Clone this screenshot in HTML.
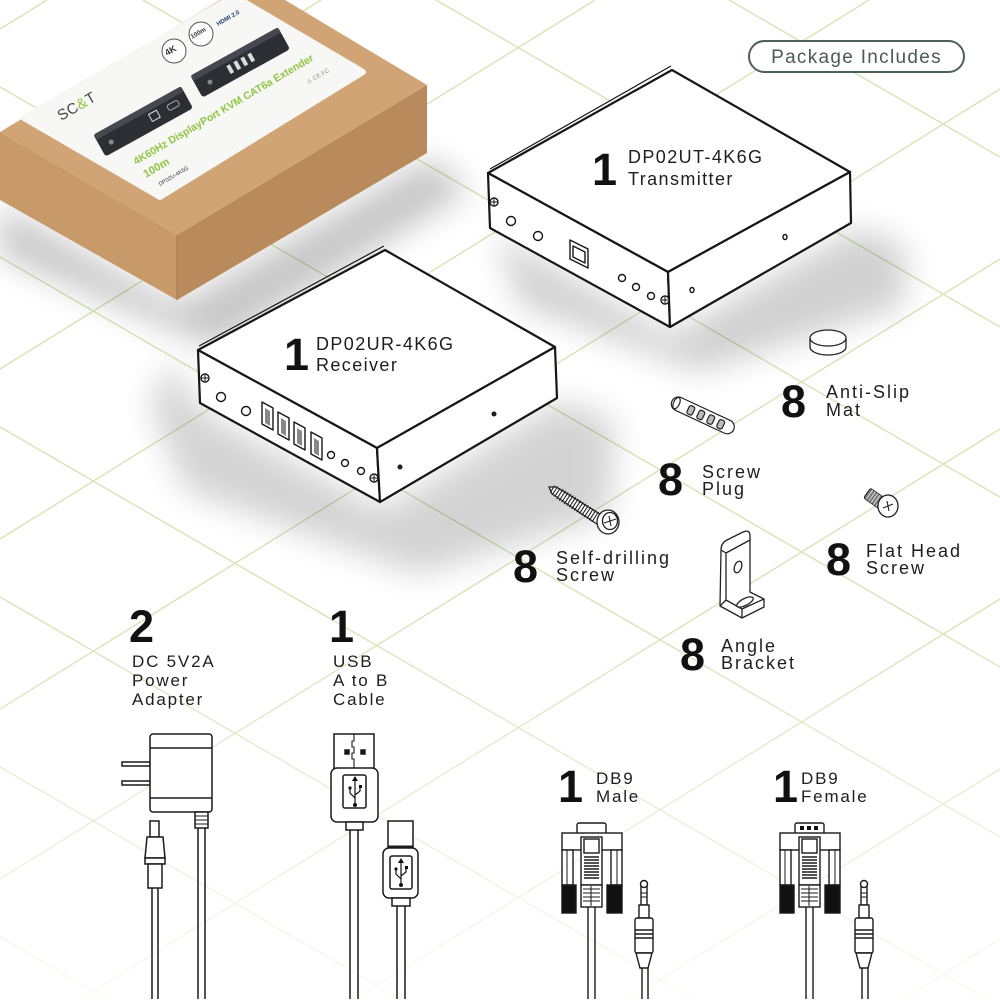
<!DOCTYPE html>
<html><head><meta charset="utf-8"><style>
html,body{margin:0;padding:0;background:#fff;width:1000px;height:1000px;overflow:hidden;}
svg{display:block;}
text{font-family:"Liberation Sans",Arial,sans-serif;}
</style></head><body>
<svg width="1000" height="1000" viewBox="0 0 1000 1000" xmlns="http://www.w3.org/2000/svg">
<defs>
<filter id="b1" x="-30%" y="-30%" width="160%" height="160%"><feGaussianBlur stdDeviation="16"/></filter>
<linearGradient id="fade" x1="0" y1="0" x2="0" y2="1">
<stop offset="0" stop-color="#fff"/><stop offset="0.62" stop-color="#fff"/><stop offset="1" stop-color="#fff" stop-opacity="0.15"/>
</linearGradient>
<mask id="m"><rect width="1000" height="1000" fill="url(#fade)"/></mask>
</defs>
<rect width="1000" height="1000" fill="#fff"/>

<!-- grid -->
<g mask="url(#m)" stroke="#d7e4b6" stroke-width="1.4" fill="none">
<line x1="729" y1="0" x2="1000" y2="157"/>
<line x1="436" y1="0" x2="1000" y2="327"/>
<line x1="143" y1="0" x2="1000" y2="497"/>
<line x1="0" y1="87" x2="1000" y2="667"/>
<line x1="0" y1="257" x2="1000" y2="837"/>
<line x1="0" y1="427" x2="988" y2="1000"/>
<line x1="0" y1="597" x2="695" y2="1000"/>
<line x1="0" y1="767" x2="402" y2="1000"/>
<line x1="0" y1="937" x2="109" y2="1000"/>
<line x1="0" y1="29" x2="47" y2="0"/>
<line x1="0" y1="199" x2="321" y2="0"/>
<line x1="0" y1="369" x2="595" y2="0"/>
<line x1="0" y1="539" x2="869" y2="0"/>
<line x1="0" y1="709" x2="1000" y2="89"/>
<line x1="0" y1="879" x2="1000" y2="259"/>
<line x1="79" y1="1000" x2="1000" y2="429"/>
<line x1="353" y1="1000" x2="1000" y2="599"/>
<line x1="627" y1="1000" x2="1000" y2="769"/>
<line x1="902" y1="1000" x2="1000" y2="939"/>
</g>

<!-- shadows -->
<polygon points="0,205 177,305 430,158 470,190 215,348 0,255" fill="#000" opacity=".22" filter="url(#b1)"/>
<polygon points="495,232 670,335 855,228 905,245 905,305 700,372 520,305" fill="#000" opacity=".18" filter="url(#b1)"/>
<polygon points="170,360 200,410 382,510 560,400 615,420 610,515 420,575 185,490 150,405" fill="#000" opacity=".17" filter="url(#b1)"/>

<!-- cardboard box -->
<polygon points="0,132 220,0 285,0 427,85 177,235" fill="#d0a474"/>
<polygon points="0,132 177,235 177,300 0,200" fill="#c89a6a"/>
<polygon points="177,235 427,85 427,153 177,300" fill="#b98a5c"/>
<line x1="177" y1="235" x2="177" y2="300" stroke="#a87c50" stroke-width="1"/>
<polygon points="24,118 160,197 363,72 246,3 222,3" fill="#f7f7f5" stroke="#f7f7f5" stroke-width="6" stroke-linejoin="round"/>
<text transform="translate(61,121) rotate(-30)" font-size="15" fill="#444" letter-spacing="0.5">SC<tspan fill="#8dc63f">&amp;</tspan>T</text>
<g transform="translate(143,121) rotate(-29)">
<rect x="-50" y="-12" width="100" height="25" rx="3" fill="#2c2e33"/>
<rect x="-50" y="-12" width="100" height="6" rx="2" fill="#45484e"/>
<rect x="8" y="-3" width="9" height="8" fill="none" stroke="#ddd" stroke-width="1"/>
<rect x="28" y="-2" width="12" height="6" rx="2" fill="none" stroke="#aaa" stroke-width="1"/>
<circle cx="-38" cy="3" r="2.5" fill="#888"/>
</g>
<g transform="translate(240,62) rotate(-29)">
<rect x="-50" y="-12" width="100" height="25" rx="3" fill="#2c2e33"/>
<rect x="-50" y="-12" width="100" height="6" rx="2" fill="#45484e"/>
<rect x="-14" y="-3" width="4" height="9" fill="#ddd"/>
<rect x="-6" y="-3" width="4" height="9" fill="#ddd"/>
<rect x="2" y="-3" width="4" height="9" fill="#ddd"/>
<rect x="10" y="-3" width="4" height="9" fill="#ddd"/>
<circle cx="-36" cy="3" r="2.5" fill="#888"/>
</g>
<text transform="translate(136,165) rotate(-30.5)" font-size="10.5" font-weight="bold" fill="#8dc63f" textLength="207" lengthAdjust="spacingAndGlyphs">4K60Hz DisplayPort KVM CAT6a Extender</text>
<text transform="translate(146,178) rotate(-30.5)" font-size="11" font-weight="bold" fill="#8dc63f">100m</text>
<text transform="translate(160,186) rotate(-30.5)" font-size="5.5" fill="#333">DP02U-4K6G</text>
<circle cx="174" cy="51" r="12" fill="#fff" stroke="#555" stroke-width="1"/>
<text transform="translate(167,56) rotate(-30)" font-size="9" font-weight="bold" fill="#333">4K</text>
<circle cx="201" cy="34" r="12" fill="#fff" stroke="#555" stroke-width="1"/>
<text transform="translate(192,39) rotate(-30)" font-size="6.5" font-weight="bold" fill="#333">100m</text>
<text transform="translate(218,26) rotate(-30)" font-size="6" font-weight="bold" fill="#1d3a6b">HDMI 2.0</text>
<text transform="translate(308,84) rotate(-30)" font-size="6" fill="#888">⚠ CE FC</text>

<!-- Package Includes -->
<rect x="749" y="41" width="215" height="31" rx="15.5" fill="#fff" stroke="#4e6156" stroke-width="2"/>
<text x="856.5" y="63" font-size="19" fill="#4a5b50" text-anchor="middle" letter-spacing="1.3">Package Includes</text>

<!-- Transmitter -->
<g stroke="#161616" stroke-linejoin="round">
<polygon points="488,173 672,70 850,172 668,272" fill="#fff" stroke-width="2.2"/>
<line x1="490" y1="169" x2="671" y2="66" stroke-width="1.2"/>
<polygon points="488,173 668,272 670,327 490,228" fill="#fff" stroke-width="2.2"/>
<polygon points="668,272 850,172 851,223 670,327" fill="#fff" stroke-width="2.2"/>
<g fill="#fff" stroke-width="1.4">
<circle cx="494" cy="202" r="4"/><circle cx="665" cy="300" r="4"/>
<circle cx="511" cy="221" r="4.5"/><circle cx="538" cy="236" r="4.5"/>
<circle cx="622" cy="278" r="3.5"/><circle cx="636" cy="287" r="3.5"/><circle cx="651" cy="296" r="3.5"/>
<ellipse cx="692" cy="290" rx="2" ry="2.5"/><ellipse cx="785" cy="237" rx="2" ry="2.5"/>
<polygon points="570,240 588,249 588,268 570,259"/>
<polygon points="573,246 585,252 585,263 573,257"/>
</g>
<path d="M491,202 h6 M494,199 v6 M662,300 h6 M665,297 v6" stroke-width="1"/>
</g>
<text x="592" y="185" font-size="45" font-weight="bold" fill="#111">1</text>
<text x="628" y="163" font-size="18" fill="#1e1e1e" letter-spacing="1.4">DP02UT-4K6G</text>
<text x="628" y="185" font-size="18" fill="#1e1e1e" letter-spacing="1.4">Transmitter</text>

<!-- Receiver -->
<g stroke="#161616" stroke-linejoin="round">
<polygon points="198,350 385,250 555,347 377,448" fill="#fff" stroke-width="2.2"/>
<line x1="199" y1="346" x2="384" y2="246" stroke-width="1.2"/>
<polygon points="198,350 377,448 380,502 200,403" fill="#fff" stroke-width="2.2"/>
<polygon points="377,448 555,347 557,398 380,502" fill="#fff" stroke-width="2.2"/>
<g fill="#fff" stroke-width="1.4">
<circle cx="205" cy="378" r="4"/><circle cx="374" cy="478" r="4"/>
<circle cx="221" cy="397" r="4.5"/><circle cx="246" cy="411" r="4.5"/>
<circle cx="331" cy="455" r="3.5"/><circle cx="345" cy="463" r="3.5"/><circle cx="361" cy="471" r="3.5"/>
<polygon points="262,402 273,408 273,430 262,424"/>
<polygon points="278,412 289,418 289,440 278,434"/>
<polygon points="294,422 305,428 305,450 294,444"/>
<polygon points="311,432 322,438 322,460 311,454"/>
</g>
<g fill="#888" stroke="none">
<polygon points="265,408 270,411 270,426 265,423"/>
<polygon points="281,418 286,421 286,436 281,433"/>
<polygon points="297,428 302,431 302,446 297,443"/>
<polygon points="314,438 319,441 319,456 314,453"/>
</g>
<path d="M202,378 h6 M205,375 v6 M371,478 h6 M374,475 v6" stroke-width="1"/>
<circle cx="400" cy="467" r="2" fill="#222"/><circle cx="494" cy="414" r="2" fill="#222"/>
</g>
<text x="284" y="370" font-size="45" font-weight="bold" fill="#111">1</text>
<text x="316" y="350" font-size="18" fill="#1e1e1e" letter-spacing="1.4">DP02UR-4K6G</text>
<text x="316" y="371" font-size="18" fill="#1e1e1e" letter-spacing="1.4">Receiver</text>

<!-- Anti-slip mat -->
<g stroke="#222" stroke-width="1.3" fill="#fff">
<path d="M810,338 v9 a18,8 0 0 0 36,0 v-9"/>
<ellipse cx="828" cy="338" rx="18" ry="8"/>
</g>
<text x="781" y="417" font-size="45" font-weight="bold" fill="#111">8</text>
<text x="826" y="398" font-size="18" fill="#1e1e1e" letter-spacing="2">Anti-Slip</text>
<text x="826" y="416" font-size="18" fill="#1e1e1e" letter-spacing="2">Mat</text>

<!-- Screw plug -->
<g transform="translate(672,401) rotate(25)" stroke="#222" stroke-width="1.2">
<rect x="0" y="-7" width="68" height="14" rx="7" fill="#fff"/>
<ellipse cx="5" cy="0" rx="3" ry="6" fill="#fff"/>
<rect x="18" y="-4" width="6" height="9" rx="2" fill="#bbb"/>
<rect x="29" y="-4" width="6" height="9" rx="2" fill="#bbb"/>
<rect x="40" y="-4" width="6" height="9" rx="2" fill="#bbb"/>
<rect x="51" y="-4" width="6" height="9" rx="2" fill="#bbb"/>
</g>
<text x="658" y="495" font-size="45" font-weight="bold" fill="#111">8</text>
<text x="702" y="478" font-size="18" fill="#1e1e1e" letter-spacing="2">Screw</text>
<text x="702" y="495" font-size="18" fill="#1e1e1e" letter-spacing="2">Plug</text>

<!-- Self-drilling screw -->
<g transform="translate(549,487) rotate(33)" stroke="#222" stroke-width="1.3" fill="#fff">
<path d="M0,0 L6,-4 L60,-5 L60,5 L6,4 Z"/>
<path d="M4,-4 v8 M7,-5 v10 M10,-5 v10 M13,-6 v12 M16,-6 v12 M19,-6 v12 M22,-6 v12 M25,-6 v12 M28,-6 v12 M31,-6 v12 M34,-6 v12 M37,-6 v12 M40,-6 v12 M43,-6 v12 M46,-6 v12 M49,-6 v12 M52,-6 v12 M55,-6 v12" fill="none" stroke-width="1.1"/>
</g>
<g stroke="#222" stroke-width="1.3" fill="#fff">
<ellipse cx="608" cy="522" rx="11" ry="12"/>
<ellipse cx="610" cy="521" rx="7.5" ry="8.5"/>
<path d="M604,523 l12,-4 M609,516 l2,10" stroke-width="1.1"/>
</g>
<text x="513" y="582" font-size="45" font-weight="bold" fill="#111">8</text>
<text x="556" y="564" font-size="18" fill="#1e1e1e" letter-spacing="2">Self-drilling</text>
<text x="556" y="581" font-size="18" fill="#1e1e1e" letter-spacing="2">Screw</text>

<!-- Flat head screw -->
<g transform="translate(867,493) rotate(35)" stroke="#222" stroke-width="1">
<rect x="0" y="-6" width="19" height="12" rx="2" fill="#777"/>
<path d="M3,-6 v12 M6,-6 v12 M9,-6 v12 M12,-6 v12 M15,-6 v12" stroke="#ddd"/>
</g>
<g stroke="#222" stroke-width="1.3" fill="#fff">
<ellipse cx="888" cy="506" rx="10" ry="11"/>
<path d="M883,508 l10,-4 M887,501 l2,10" stroke-width="1.1"/>
</g>
<text x="826" y="575" font-size="45" font-weight="bold" fill="#111">8</text>
<text x="866" y="557" font-size="18" fill="#1e1e1e" letter-spacing="2">Flat Head</text>
<text x="866" y="574" font-size="18" fill="#1e1e1e" letter-spacing="2">Screw</text>

<!-- Angle bracket -->
<g stroke="#222" stroke-width="1.3" fill="#fff" stroke-linejoin="round">
<path d="M721,550 Q721,543 727,540 L743,532 Q750,529 750,536 L750,592 L764,599 L764,607 L742,618 L720,606 Z"/>
<path d="M721,550 L726,553 L750,540 M726,553 L726,600 L742,609 L764,599 M742,609 L742,618 M720,606 L726,600" fill="none"/>
<ellipse cx="738" cy="567" rx="3.5" ry="6" transform="rotate(20 738 567)"/>
<ellipse cx="745" cy="602" rx="9" ry="3.5" transform="rotate(-27 745 602)"/>
</g>
<text x="680" y="670" font-size="45" font-weight="bold" fill="#111">8</text>
<text x="721" y="652" font-size="18" fill="#1e1e1e" letter-spacing="2">Angle</text>
<text x="721" y="669" font-size="18" fill="#1e1e1e" letter-spacing="2">Bracket</text>

<!-- Power adapter -->
<text x="129" y="642" font-size="45" font-weight="bold" fill="#111">2</text>
<text x="132" y="667" font-size="17" fill="#1e1e1e" letter-spacing="1.8">DC 5V2A</text>
<text x="132" y="686" font-size="17" fill="#1e1e1e" letter-spacing="1.8">Power</text>
<text x="132" y="705" font-size="17" fill="#1e1e1e" letter-spacing="1.8">Adapter</text>
<g stroke="#1a1a1a" stroke-width="1.5" fill="#fff">
<rect x="122" y="762" width="28" height="4"/>
<rect x="122" y="781" width="28" height="4"/>
<rect x="150" y="734" width="62" height="78" rx="3"/>
<path d="M150,748 H212 M150,798 H212" fill="none"/>
<path d="M198,828 V999 M205,828 V999" fill="none"/>
<rect x="195" y="812" width="13" height="16"/>
<path d="M195,816 h13 M195,820 h13 M195,824 h13" fill="none" stroke-width="1"/>
<path d="M152,888 V999 M158,888 V999" fill="none"/>
<rect x="150" y="821" width="9" height="16"/>
<path d="M147,837 H163 L165,858 H145 Z"/>
<rect x="145" y="858" width="20" height="6"/>
<rect x="148" y="864" width="14" height="24"/>
</g>

<!-- USB cable -->
<text x="329" y="642" font-size="45" font-weight="bold" fill="#111">1</text>
<text x="333" y="667" font-size="17" fill="#1e1e1e" letter-spacing="1.8">USB</text>
<text x="333" y="686" font-size="17" fill="#1e1e1e" letter-spacing="1.8">A to B</text>
<text x="333" y="705" font-size="17" fill="#1e1e1e" letter-spacing="1.8">Cable</text>
<g stroke="#1a1a1a" stroke-width="1.5" fill="#fff">
<path d="M350,830 V999 M358,830 V999" fill="none"/>
<rect x="334" y="734" width="40" height="35"/>
<path d="M354,734 v7 h-2 v6 h2 v6 h-2 v6 h2 v10" fill="none" stroke-width="1.1"/>
<rect x="345" y="750" width="4" height="4" fill="#111"/>
<rect x="361" y="750" width="4" height="4" fill="#111"/>
<rect x="331" y="768" width="47" height="54" rx="6"/>
<rect x="343" y="775" width="23" height="33" rx="2"/>
<rect x="346" y="822" width="17" height="8"/>
<path d="M397,906 V999 M405,906 V999" fill="none"/>
<rect x="388" y="821" width="25" height="27"/>
<path d="M388,847 h25" stroke-width="3"/>
<rect x="383" y="848" width="35" height="50" rx="6"/>
<rect x="390" y="856" width="22" height="33" rx="2"/>
<rect x="392" y="898" width="18" height="8"/>
</g>
<g stroke="#111" stroke-width="1.2" fill="none">
<path d="M355,780 v24 M355,798 l-5,-5 v-4 M355,795 l5,-4 v-4"/>
<path d="M401,862 v22 M401,879 l-5,-5 v-4 M401,876 l5,-4 v-4"/>
</g>
<g fill="#111">
<path d="M352,781 l3,-5 l3,5 z"/><circle cx="355" cy="805" r="2"/><circle cx="350" cy="788" r="1.6"/><rect x="359" y="785" width="3" height="3"/>
<path d="M398,863 l3,-5 l3,5 z"/><circle cx="401" cy="885" r="2"/><circle cx="396" cy="869" r="1.6"/><rect x="405" y="866" width="3" height="3"/>
</g>

<!-- DB9 Male -->
<text x="558" y="802" font-size="45" font-weight="bold" fill="#111">1</text>
<text x="596" y="784" font-size="17" fill="#1e1e1e" letter-spacing="1.8">DB9</text>
<text x="596" y="802" font-size="17" fill="#1e1e1e" letter-spacing="1.8">Male</text>
<g id="db9" stroke="#1a1a1a" stroke-width="1.4" fill="#fff">
<path d="M588,905 V999 M595,905 V999" fill="none"/>
<rect x="577" y="823" width="29" height="11" rx="2"/>
<rect x="562" y="833" width="60" height="17"/>
<rect x="562" y="850" width="11" height="35"/>
<rect x="611" y="850" width="11" height="35"/>
<path d="M567,850 v35 M617,850 v35" fill="none" stroke-width="1"/>
<rect x="562" y="885" width="14" height="28" fill="#111"/>
<rect x="607" y="885" width="15" height="28" fill="#111"/>
<rect x="581" y="837" width="21" height="48"/>
<rect x="584" y="839" width="15" height="14"/>
<path d="M584,857 h15 M584,860 h15 M584,863 h15 M584,866 h15 M584,869 h15 M584,872 h15 M584,875 h15 M584,878 h15" fill="none" stroke-width="1.6"/>
<rect x="581" y="885" width="21" height="22"/>
<path d="M583,889 h17 M583,893 h17 M583,897 h17 M583,901 h17 M591,886 v20" fill="none" stroke-width="1"/>
</g>
<g id="jack" stroke="#1a1a1a" stroke-width="1.4" fill="#fff">
<path d="M642,966 V999 M648,966 V999" fill="none"/>
<path d="M641,886 v19 h6 v-19 z"/>
<circle cx="644" cy="884" r="3.5"/>
<path d="M641,893 h6 M641,897 h6" fill="none" stroke-width="1"/>
<rect x="639" y="905" width="10" height="13"/>
<rect x="635" y="918" width="18" height="35" rx="2"/>
<path d="M635,930 h18 M635,934 h18 M635,938 h18" fill="none" stroke-width="1.6"/>
<path d="M636,953 L640,968 H648 L652,953 Z"/>
</g>

<!-- DB9 Female -->
<text x="773" y="802" font-size="45" font-weight="bold" fill="#111">1</text>
<text x="801" y="784" font-size="17" fill="#1e1e1e" letter-spacing="1.8">DB9</text>
<text x="801" y="802" font-size="17" fill="#1e1e1e" letter-spacing="1.8">Female</text>
<use href="#db9" transform="translate(218,0)"/>
<g fill="#111"><rect x="800" y="826" width="4" height="4"/><rect x="807" y="826" width="4" height="4"/><rect x="814" y="826" width="4" height="4"/></g>
<use href="#jack" transform="translate(220,0)"/>
</svg>
</body></html>
